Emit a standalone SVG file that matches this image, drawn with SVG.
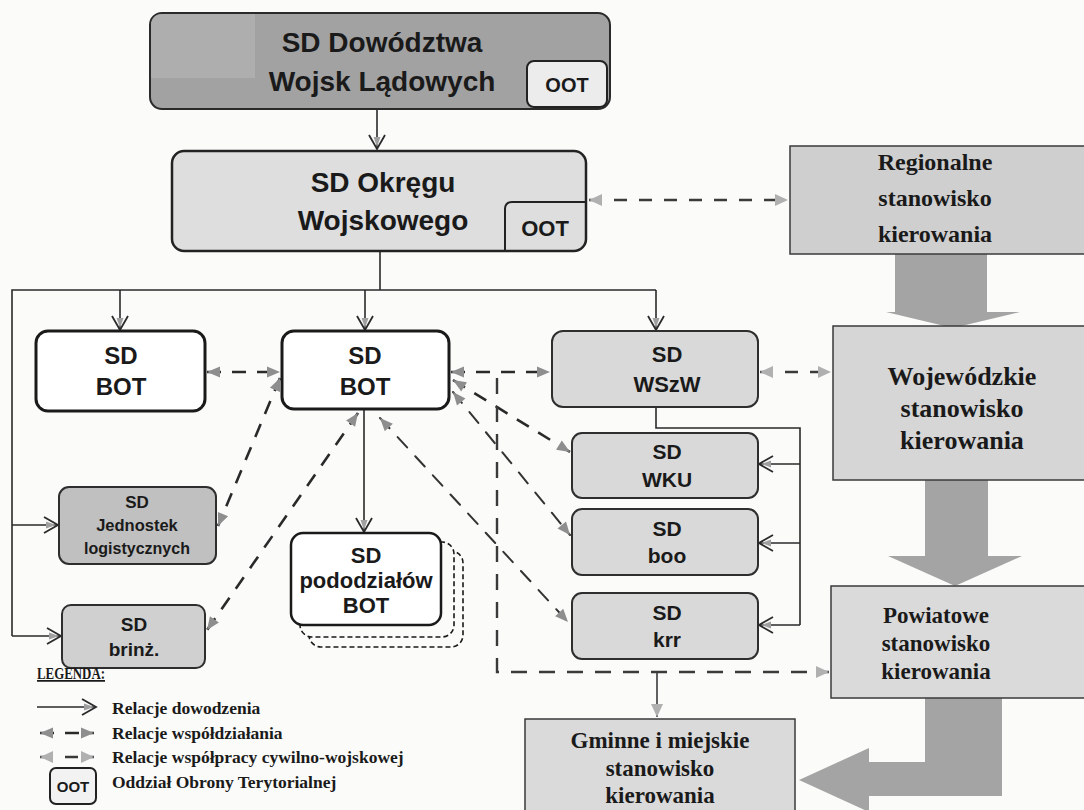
<svg xmlns="http://www.w3.org/2000/svg" width="1084" height="810" viewBox="0 0 1084 810">
<defs>
<style>
.sans{font-family:"Liberation Sans",Arial,sans-serif;font-weight:bold;fill:#1a1a1a;text-anchor:middle}
.serif{font-family:"Liberation Serif","Times New Roman",serif;font-weight:bold;fill:#1a1a1a;text-anchor:middle}
.lg{font-family:"Liberation Serif","Times New Roman",serif;font-weight:bold;fill:#1a1a1a;font-size:17.5px}
.wbox{fill:#ffffff;stroke:#1a1a1a;stroke-width:3}
.gbox{fill:#d9d9d9;stroke:#2e2e2e;stroke-width:2}
.sq{stroke:#3a3a3a;stroke-width:1.5}
.cmd{fill:none;stroke:#2a2a2a;stroke-width:1.6;marker-end:url(#mCmd)}
.line{fill:none;stroke:#2a2a2a;stroke-width:1.6}
.coop{fill:none;stroke:#2a2a2a;stroke-width:2.6;stroke-dasharray:14 11;marker-start:url(#mCo);marker-end:url(#mCo)}
.thin{fill:none;stroke:#333;stroke-width:2;stroke-dasharray:14 12;stroke-linecap:round;marker-start:url(#mCo);marker-end:url(#mCo)}
.civ{fill:none;stroke:#3a3a3a;stroke-width:2.4;stroke-dasharray:13 12;marker-start:url(#mCiv);marker-end:url(#mCiv)}
.big{fill:#a4a4a4}
</style>
<marker id="mCmd" markerUnits="userSpaceOnUse" markerWidth="32" markerHeight="32" viewBox="-16 -16 32 32" refX="0" refY="0" orient="auto">
<path d="M-2,0 L-12,-3.5 L-12,3.5 Z" fill="#a0a0a0"/>
<path d="M-14,-8 L0,0 L-14,8" fill="none" stroke="#2a2a2a" stroke-width="1.8"/>
</marker>
<marker id="mCo" markerUnits="userSpaceOnUse" markerWidth="32" markerHeight="32" viewBox="-16 -16 32 32" refX="0" refY="0" orient="auto-start-reverse">
<path d="M0,0 L-13,-5.5 L-13,5.5 Z" fill="#8e8e8e"/>
</marker>
<marker id="mCiv" markerUnits="userSpaceOnUse" markerWidth="32" markerHeight="32" viewBox="-16 -16 32 32" refX="0" refY="0" orient="auto-start-reverse">
<path d="M0,0 L-13,-6 L-13,6 Z" fill="#b0b0b0"/>
</marker>
</defs>
<rect x="0" y="0" width="1084" height="810" fill="#fbfbf9"/>

<g id="connectors">
<line class="cmd" x1="377" y1="109" x2="377" y2="149"/>
<polyline class="line" points="380,251 380,290"/>
<polyline class="line" points="12,636 12,290 656,290"/>
<line class="cmd" x1="120" y1="290" x2="120" y2="330"/>
<line class="cmd" x1="365" y1="290" x2="365" y2="330"/>
<line class="cmd" x1="656" y1="290" x2="656" y2="330"/>
<line class="cmd" x1="12" y1="525" x2="58" y2="525"/>
<line class="cmd" x1="12" y1="636" x2="61" y2="636"/>
<line class="cmd" x1="364" y1="409" x2="364" y2="532"/>
<polyline class="line" points="656,407 656,428 800,428 800,625"/>
<line class="cmd" x1="800" y1="464" x2="759" y2="464"/>
<line class="cmd" x1="800" y1="543" x2="759" y2="543"/>
<line class="cmd" x1="800" y1="625" x2="759" y2="625"/>

<line class="coop" x1="207" y1="372" x2="280" y2="372"/>
<line class="coop" x1="451" y1="372" x2="550" y2="372"/>
<line class="coop" x1="280" y1="378" x2="218" y2="526"/>
<line class="coop" x1="358" y1="413" x2="207" y2="630"/>
<line class="coop" x1="453" y1="380" x2="570" y2="452"/>
<line class="thin" x1="453" y1="392" x2="570" y2="535"/>
<line class="thin" x1="380" y1="418" x2="568" y2="622"/>

<line class="civ" x1="589" y1="200" x2="788" y2="200"/>
<line class="civ" x1="760" y1="372" x2="831" y2="372"/>
<polyline fill="none" stroke="#3a3a3a" stroke-width="2.4" stroke-dasharray="16 12" points="497,378 497,672 829,672" marker-end="url(#mCiv)"/>
<line fill="none" stroke="#3a3a3a" stroke-width="1.6" x1="657" y1="672" x2="657" y2="717" marker-end="url(#mCiv)"/>

<polygon class="big" points="895,254 987,254 987,312 1020,312 953,328 886,312 895,312"/>
<polygon class="big" points="925,480 988,480 988,556 1022,556 955,586 888,556 925,556"/>
<polygon class="big" points="925,698 1002,698 1002,796 869,796 869,812 799,780 869,748 869,762 925,762"/>
</g>

<g id="n-dwl">
<rect x="150" y="13" width="460" height="96" rx="12" fill="#a2a2a2" stroke="#2a2a2a" stroke-width="2"/>
<path d="M151,26 Q151,14 163,14 H255 V78 H151 Z" fill="#aeaeae"/>
<text class="sans" x="382" y="52" font-size="28">SD Dowództwa</text>
<text class="sans" x="382" y="91" font-size="28">Wojsk Lądowych</text>
<rect x="527" y="61" width="80" height="46" rx="7" fill="#ececec" stroke="#222" stroke-width="2"/>
<text class="sans" x="567" y="92" font-size="20">OOT</text>
</g>

<g id="n-ow">
<rect x="172" y="151" width="414" height="100" rx="12" fill="#dedede" stroke="#222" stroke-width="2.5"/>
<path d="M505,251 V209 Q505,202 512,202 H586" fill="none" stroke="#222" stroke-width="2"/>
<text class="sans" x="383" y="192" font-size="28">SD Okręgu</text>
<text class="sans" x="383" y="230" font-size="28">Wojskowego</text>
<text class="sans" x="545" y="236" font-size="22">OOT</text>
</g>

<g id="n-bot1">
<rect class="wbox" x="36" y="331" width="169" height="80" rx="12"/>
<text class="sans" x="121" y="364" font-size="24">SD</text>
<text class="sans" x="121" y="395" font-size="24">BOT</text>
</g>

<g id="n-bot2">
<rect class="wbox" x="282" y="331" width="167" height="78" rx="12"/>
<text class="sans" x="365" y="364" font-size="24">SD</text>
<text class="sans" x="365" y="395" font-size="24">BOT</text>
</g>

<g id="n-wszw">
<rect class="gbox" x="552" y="331" width="206" height="76" rx="11"/>
<text class="sans" x="667" y="362" font-size="22">SD</text>
<text class="sans" x="667" y="392" font-size="22">WSzW</text>
</g>

<g id="n-wku">
<rect class="gbox" x="572" y="433" width="186" height="65" rx="10"/>
<text class="sans" x="667" y="459" font-size="21">SD</text>
<text class="sans" x="667" y="487" font-size="21">WKU</text>
</g>

<g id="n-boo">
<rect class="gbox" x="572" y="509" width="186" height="66" rx="10"/>
<text class="sans" x="667" y="536" font-size="21">SD</text>
<text class="sans" x="667" y="563" font-size="21">boo</text>
</g>

<g id="n-krr">
<rect class="gbox" x="572" y="593" width="186" height="66" rx="10"/>
<text class="sans" x="667" y="620" font-size="21">SD</text>
<text class="sans" x="667" y="647" font-size="21">krr</text>
</g>

<g id="n-jl">
<rect x="59" y="487" width="157" height="77" rx="10" fill="#c0c0c0" stroke="#2e2e2e" stroke-width="2"/>
<text class="sans" x="137" y="508" font-size="17">SD</text>
<text class="sans" x="137" y="531" font-size="16.5">Jednostek</text>
<text class="sans" x="137" y="554" font-size="16">logistycznych</text>
</g>

<g id="n-brinz">
<rect x="62" y="605" width="143" height="63" rx="9" fill="#d0d0d0" stroke="#2e2e2e" stroke-width="2"/>
<text class="sans" x="134" y="631" font-size="19">SD</text>
<text class="sans" x="134" y="656" font-size="19">brinż.</text>
</g>

<g id="n-pod">
<rect x="309" y="551" width="154" height="96" rx="12" fill="#fbfbf9" stroke="#1a1a1a" stroke-width="1.6" stroke-dasharray="5 3"/>
<rect x="300" y="542" width="154" height="95" rx="12" fill="#fbfbf9" stroke="#1a1a1a" stroke-width="1.6" stroke-dasharray="5 3"/>
<rect x="291" y="533" width="150" height="92" rx="12" fill="#ffffff" stroke="#1a1a1a" stroke-width="2.5"/>
<text class="sans" x="366" y="563" font-size="22">SD</text>
<text class="sans" x="366" y="588" font-size="22">pododziałów</text>
<text class="sans" x="366" y="613" font-size="22">BOT</text>
</g>

<g id="n-reg">
<rect class="sq" x="790" y="146" width="300" height="108" fill="#cfcfcf"/>
<text class="serif" x="935" y="170" font-size="24">Regionalne</text>
<text class="serif" x="935" y="206" font-size="24">stanowisko</text>
<text class="serif" x="935" y="242" font-size="24">kierowania</text>
</g>

<g id="n-woj">
<rect class="sq" x="833" y="326" width="260" height="154" fill="#d6d6d6"/>
<text class="serif" x="962" y="385" font-size="26">Wojewódzkie</text>
<text class="serif" x="962" y="417" font-size="26">stanowisko</text>
<text class="serif" x="962" y="449" font-size="26">kierowania</text>
</g>

<g id="n-pow">
<rect class="sq" x="831" y="586" width="260" height="112" fill="#dadada"/>
<text class="serif" x="936" y="623" font-size="23">Powiatowe</text>
<text class="serif" x="936" y="651" font-size="23">stanowisko</text>
<text class="serif" x="936" y="679" font-size="23">kierowania</text>
</g>

<g id="n-gm">
<rect class="sq" x="525" y="719" width="270" height="100" fill="#dadada"/>
<text class="serif" x="660" y="748" font-size="23">Gminne i miejskie</text>
<text class="serif" x="660" y="776" font-size="23">stanowisko</text>
<text class="serif" x="660" y="803" font-size="23">kierowania</text>
</g>

<g id="legend">
<text class="lg" x="37" y="679" font-size="15" textLength="68" lengthAdjust="spacingAndGlyphs" text-decoration="underline">LEGENDA:</text>
<line class="cmd" x1="37" y1="707" x2="96" y2="707"/>
<text class="lg" x="112" y="714">Relacje dowodzenia</text>
<line class="coop" x1="40" y1="733" x2="94" y2="733" stroke-width="2"/>
<text class="lg" x="112" y="739">Relacje współdziałania</text>
<line class="civ" x1="40" y1="757" x2="94" y2="757" stroke-width="2"/>
<text class="lg" x="112" y="763">Relacje współpracy cywilno-wojskowej</text>
<rect x="50" y="768" width="46" height="36" rx="6" fill="#f2f2f2" stroke="#222" stroke-width="2"/>
<text class="sans" x="73" y="792" font-size="15">OOT</text>
<text class="lg" x="112" y="788">Oddział Obrony Terytorialnej</text>
</g>
</svg>
